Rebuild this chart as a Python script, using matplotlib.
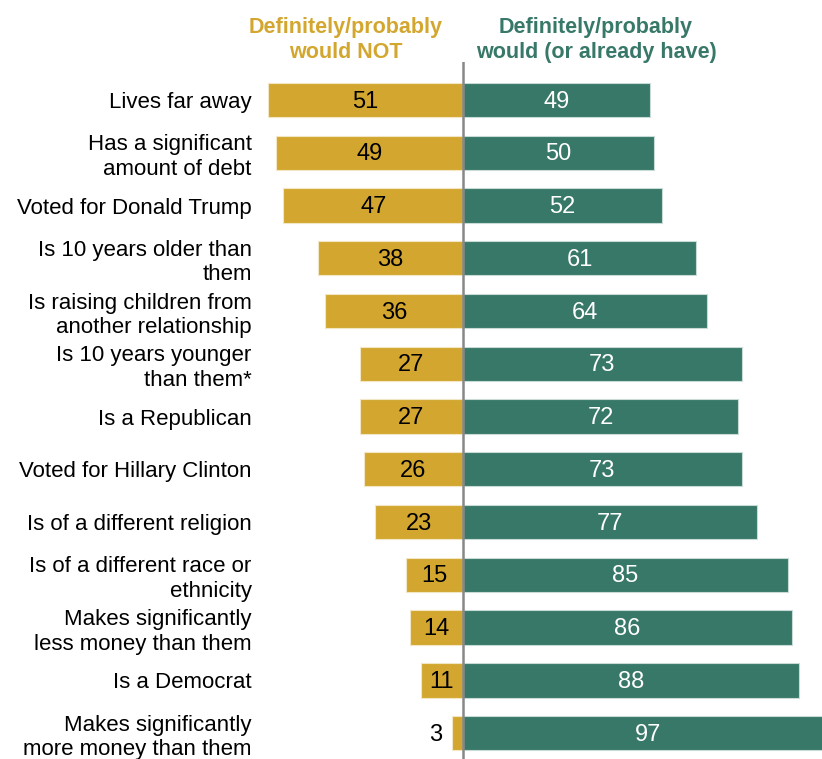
import matplotlib.pyplot as plt

labels = ["Lives far away", "Has a significant\namount of debt", "Voted for Donald Trump",
          "Is 10 years older than\nthem", "Is raising children from\nanother relationship",
          "Is 10 years younger\nthan them*", "Is a Republican", "Voted for Hillary Clinton",
          "Is of a different religion", "Is of a different race or\nethnicity",
          "Makes significantly\nless money than them", "Is a Democrat",
          "Makes significantly\nmore money than them"]
would_not = [51, 49, 47, 38, 36, 27, 27, 26, 23, 15, 14, 11, 3]
would = [49, 50, 52, 61, 64, 73, 72, 73, 77, 85, 86, 88, 97]

gold = "#D3A72F"
green = "#387868"

plt.rcParams['font.family'] = ['Liberation Sans', 'DejaVu Sans']

fig = plt.figure(figsize=(8.22, 7.59), dpi=100)
# axes placed so that 0 sits at x=463px and bars extend 3.82px per point
ax = fig.add_axes([260 / 822, 0, 562 / 822, (759 - 62) / 759])

y = list(range(len(labels)))
ax.barh(y, [-v for v in would_not], height=0.65, color=gold, edgecolor="#f3e6c4", linewidth=0.8)
ax.barh(y, would, height=0.65, color=green, edgecolor="#c9dbd6", linewidth=0.8)

for i, (a, b) in enumerate(zip(would_not, would)):
    if a >= 8:
        ax.text(-a / 2, i + 0.03, str(a), ha="center", va="center", fontsize=17, color="black")
    else:
        ax.text(-a - 2.5, i + 0.03, str(a), ha="right", va="center", fontsize=17, color="black")
    ax.text(b / 2, i + 0.03, str(b), ha="center", va="center", fontsize=17, color="white")

ax.axvline(0, color="#888888", linewidth=1.8)
ax.set_xlim(-53.14, 93.98)
ax.set_ylim(12.49, -0.72)
ax.set_yticks(y)
ax.set_yticklabels(labels, fontsize=16, linespacing=1.22)
ax.tick_params(axis="y", length=0, pad=6)
ax.set_xticks([])
for s in ax.spines.values():
    s.set_visible(False)

fig.text(346 / 822, 1 - 40 / 759, "Definitely/probably\nwould NOT", ha="center", va="center",
         fontsize=15.5, fontweight="bold", color=gold, linespacing=1.3)
fig.text(596 / 822, 1 - 40 / 759, "Definitely/probably\nwould (or already have)", ha="center", va="center",
         fontsize=15.5, fontweight="bold", color=green, linespacing=1.3)

fig.savefig("out.png", dpi=100)
